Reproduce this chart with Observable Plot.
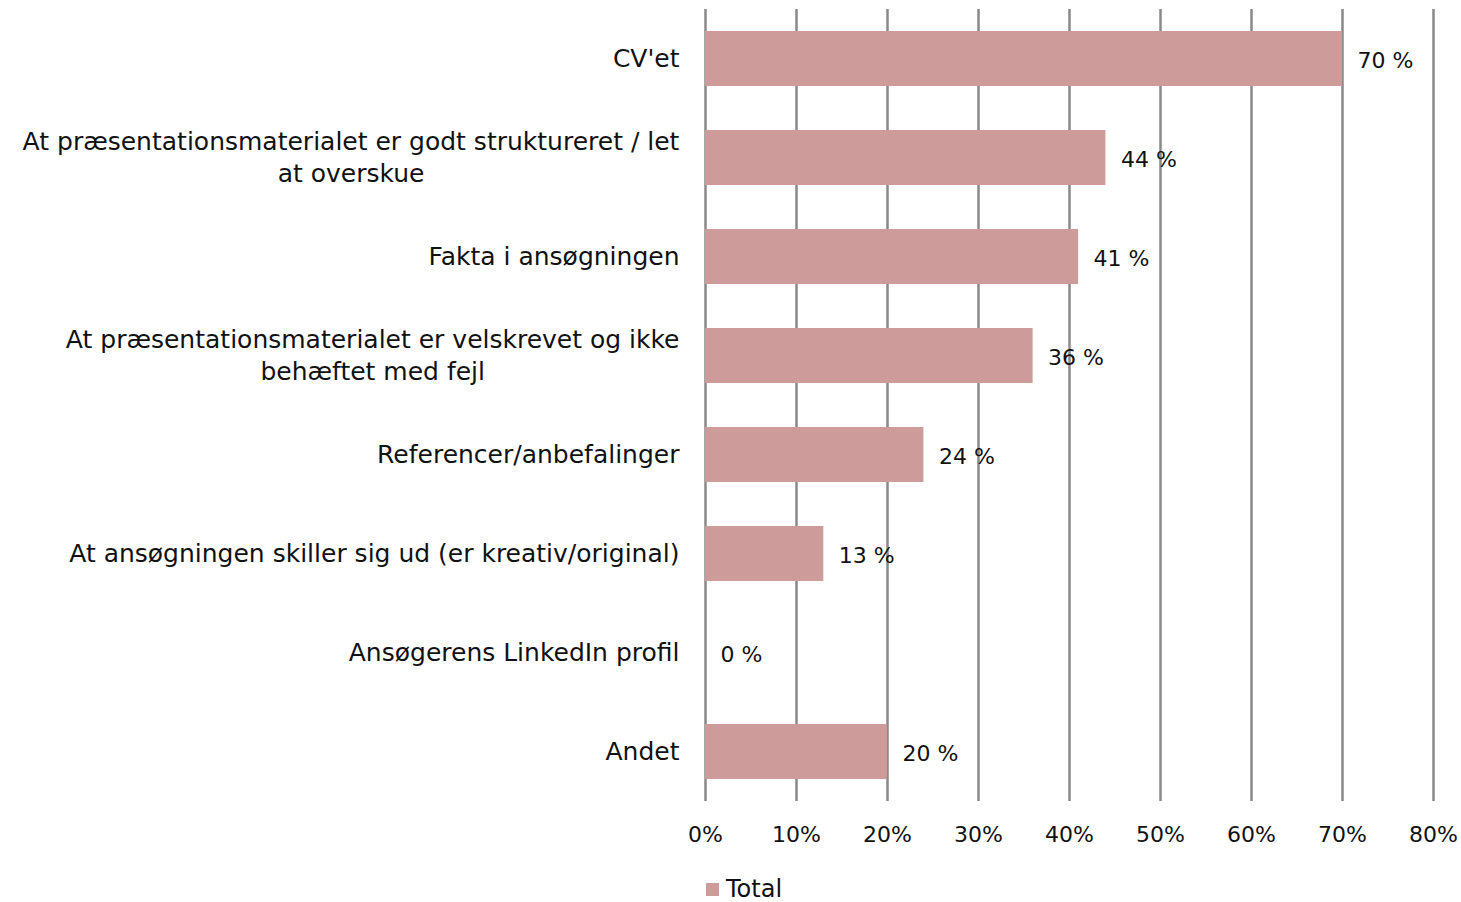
<!DOCTYPE html>
<html>
<head>
<meta charset="utf-8">
<script src="https://cdn.jsdelivr.net/npm/d3@7"></script>
<script src="https://cdn.jsdelivr.net/npm/@observablehq/plot@0.6"></script>
<style>
  body { margin: 0; background: #fff; font-family: "DejaVu Sans", sans-serif; }
  #legend { position: relative; height: 37px; font-size: 24px; color: #111; }
  #legend .sw { position: absolute; left: 706px; top: 18px; width: 13px; height: 13px; background: #cc9b9a; }
  #legend .lb { position: absolute; left: 726px; top: 10px; line-height: 28px; }
</style>
</head>
<body>
<div id="chart"></div>
<div id="legend"><span class="sw"></span><span class="lb">Total</span></div>
<script>
const categories = [
  "CV'et",
  "At præsentationsmaterialet er godt struktureret / let at overskue",
  "Fakta i ansøgningen",
  "At præsentationsmaterialet er velskrevet og ikke behæftet med fejl",
  "Referencer/anbefalinger",
  "At ansøgningen skiller sig ud (er kreativ/original)",
  "Ansøgerens LinkedIn profil",
  "Andet"
];
const values = [70, 44, 41, 36, 24, 13, 0, 20];
const labelLines = {
  "At præsentationsmaterialet er godt struktureret / let at overskue": "At præsentationsmaterialet er godt struktureret / let\nat overskue",
  "At præsentationsmaterialet er velskrevet og ikke behæftet med fejl": "At præsentationsmaterialet er velskrevet og ikke\nbehæftet med fejl"
};
const xTicks = [0, 10, 20, 30, 40, 50, 60, 70, 80];
const seriesName = "Total";

const data = categories.map((c, i) => ({category: c, value: values[i]}));

const chart = Plot.plot({
  width: 1461,
  height: 865,
  marginLeft: 705,
  marginRight: 28,
  marginTop: 9,
  marginBottom: 64,
  style: {fontFamily: "DejaVu Sans, sans-serif", fontSize: "22px", color: "#111", background: "#fff"},
  x: {domain: [0, 80], ticks: xTicks, tickFormat: d => `${d}%`},
  y: {domain: categories, paddingInner: 0.44, paddingOuter: 0.22},
  marks: [
    Plot.ruleX(xTicks, {stroke: "#898989", strokeWidth: 2.5}),
    Plot.barX(data, {x: "value", y: "category", fill: "#cc9b9a"}),
    Plot.text(data, {x: "value", y: "category", text: d => `${d.value} %`, textAnchor: "start", dx: 15, dy: 2, fontSize: 22, fill: "#111"}),
    Plot.axisX({ticks: xTicks, tickFormat: d => `${d}%`, tickSize: 0, tickPadding: 25, fontSize: 22, label: null}),
    Plot.axisY({tickSize: 0, tickPadding: 26, dy: -2, fontSize: 25, lineHeight: 1.28, label: null, tickFormat: d => labelLines[d] || d})
  ]
});
document.getElementById("chart").appendChild(chart);

// center multi-line category labels within their right-aligned block
chart.querySelectorAll("g[aria-label='y-axis tick label'] text").forEach(t => {
  const spans = t.querySelectorAll("tspan");
  if (spans.length > 1) {
    const w = t.getBBox().width;
    t.setAttribute("text-anchor", "middle");
    spans.forEach(s => s.setAttribute("x", -w / 2));
  }
});
</script>
</body>
</html>
